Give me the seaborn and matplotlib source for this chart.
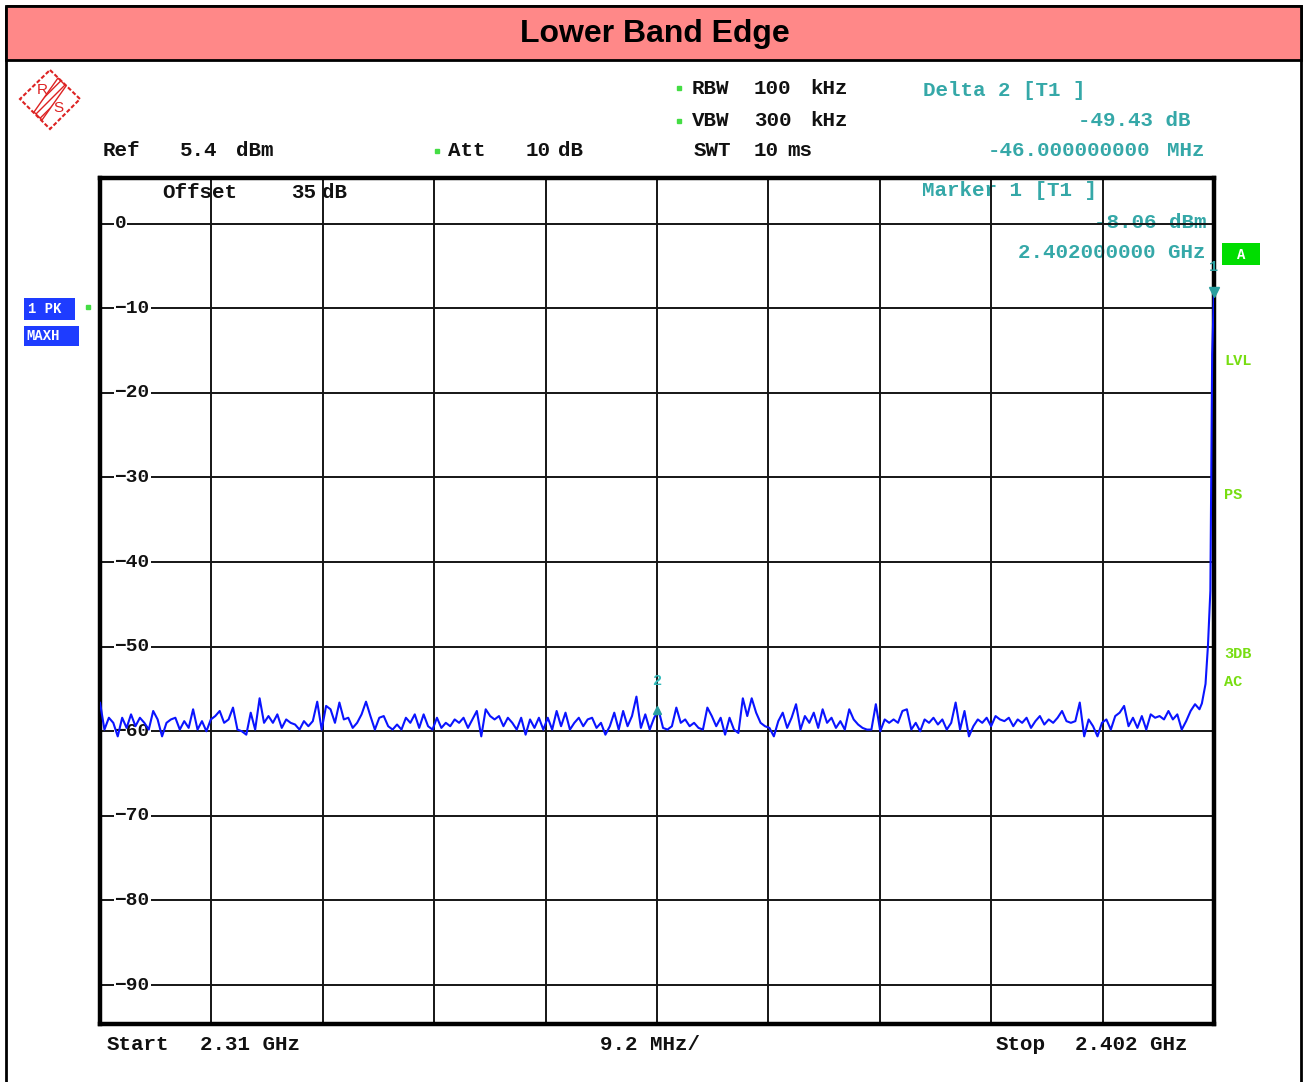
import numpy as np
import pandas as pd
import matplotlib
matplotlib.use('Agg')
import matplotlib.pyplot as plt
from matplotlib.patches import Rectangle, Polygon
import seaborn as sns

# sweep settings (MHz / dBm)
start_mhz = 2310.0
stop_mhz = 2402.0
ref_level = 5.4
grid_levels = [0, -10, -20, -30, -40, -50, -60, -70, -80, -90]

# max-hold noise floor, left to right
noise_a = [-56.6, -59.8, -58.4, -59.0, -60.6, -58.4, -59.6, -58.0, -59.4, -58.4, -59.0, -59.8, -57.6, -58.6, -60.6, -59.0,
           -58.6, -58.4, -59.8, -58.8, -59.6, -57.4, -59.8, -58.8, -60.0, -58.6, -58.2, -57.6, -59.0, -58.6, -57.2, -59.8,
           -60.0, -60.4, -57.8, -59.8, -56.1, -59.0, -58.2, -59.0, -58.0, -59.6, -58.6, -59.0, -59.2, -59.8, -58.8, -59.4,
           -58.8, -56.5, -59.8, -57.0, -57.4, -59.0, -56.6, -58.6, -58.4, -59.6, -59.0, -58.0, -56.5, -58.2, -59.8, -58.4]
noise_b = [-58.2, -59.4, -59.8, -59.2, -59.8, -58.4, -59.0, -58.0, -59.6, -58.0, -59.4, -59.8, -58.4, -59.6, -59.0, -59.4,
           -58.6, -59.0, -58.4, -59.6, -58.6, -57.6, -60.6, -57.4, -58.2, -58.6, -58.2, -59.4, -58.4, -59.0, -59.8, -58.4,
           -60.4, -58.6, -59.6, -58.4, -59.8, -58.4, -59.8, -57.6, -59.4, -57.8, -59.8, -59.0, -58.4, -59.4, -58.6, -58.4,
           -59.6, -59.0, -60.4, -59.4, -57.8, -59.8, -57.6, -59.4, -58.2, -55.9, -59.6, -58.0, -59.8, -58.4, -57.5]
noise_c = [-59.6, -59.8, -59.4, -57.2, -59.0, -58.6, -59.4, -59.0, -59.6, -59.8, -57.2, -58.2, -59.4, -58.4, -60.4, -58.4,
           -59.8, -60.2, -56.1, -58.2, -56.1, -57.8, -59.0, -59.4, -59.6, -60.6, -58.8, -57.8, -59.6, -58.4, -56.8, -59.8,
           -58.2, -59.0, -57.8, -59.6, -57.4, -59.0, -58.4, -59.6, -58.8, -59.8, -57.4, -58.6, -59.2, -59.6, -59.8, -59.8,
           -56.8, -60.0, -58.6, -59.0, -58.6, -59.0, -57.6, -57.4, -59.8, -59.0, -60.0, -58.6, -59.0, -58.4, -59.2]
noise_d = [-58.6, -59.8, -59.0, -56.6, -59.8, -57.6, -60.6, -59.4, -58.6, -59.0, -58.4, -59.4, -58.2, -58.6, -58.8, -58.4,
           -59.4, -58.6, -59.0, -58.4, -59.6, -58.8, -58.2, -59.2, -58.6, -59.0, -58.4, -57.6, -58.8, -59.0, -58.8, -56.6,
           -60.6, -58.6, -59.4, -60.6, -59.0, -58.6, -59.8, -58.2, -57.8, -57.0, -59.4, -58.4, -59.6, -58.2, -59.8, -58.0,
           -58.4, -58.2, -58.6, -57.6, -58.6, -58.0, -59.8, -58.8, -57.6, -56.8, -57.4]

# band edge skirt at the right of the screen
edge_mhz = [2401.0, 2401.3, 2401.5, 2401.7, 2401.85, 2402.0]
edge_level = [-56.7, -54.4, -49.9, -43.4, -15.4, -8.06]

# markers
marker1 = (2402.0, -8.06)
marker2 = (2356.0, -57.49)

noise = noise_a + noise_b + noise_c + noise_d
noise_mhz = np.linspace(start_mhz, 2400.8, len(noise))
df = pd.DataFrame({'freq': np.concatenate([noise_mhz, edge_mhz]),
                   'level': np.concatenate([noise, edge_level])})

sns.set_style('white')
plt.rcParams['font.family'] = ['Liberation Mono', 'DejaVu Sans Mono']

W, H = 1303, 1082
fig = plt.figure(figsize=(W / 100, H / 100), dpi=100)

# background layer in pixel coords for the screen decorations
bg = fig.add_axes([0, 0, 1, 1], zorder=0)
bg.set_xlim(0, W)
bg.set_ylim(H, 0)
bg.axis('off')

bg.add_patch(Rectangle((6, 6), W - 8, H - 4, fill=False, ec='black', lw=2))
bg.add_patch(Rectangle((6, 6), W - 8, 54, fc='#ff8888', ec='black', lw=2))
bg.text(W / 2 + 3, 34, 'Lower Band Edge', ha='center', va='center', fontsize=23,
        fontweight='bold', family='Liberation Sans', color='black')

# R&S logo
bg.add_patch(Polygon([(50, 70), (80, 99), (50, 129), (20, 99)], closed=True, fill=False,
                     ec='#dd2222', lw=1.5, ls=(0, (2, 1))))
bg.add_patch(Polygon([(58, 78), (66, 86), (42, 120), (34, 112)], closed=True, fill=False,
                     ec='#dd2222', lw=1, hatch='////'))
bg.text(42, 90, 'R', color='#dd2222', fontsize=11, ha='center', va='center', family='Liberation Sans')
bg.text(58, 108, 'S', color='#dd2222', fontsize=11, ha='center', va='center', family='Liberation Sans')

black_font = dict(fontsize=15, fontweight='bold', va='center', color='#111111')
teal_font = dict(fontsize=15, fontweight='bold', va='center', color='#35a8a8')
green_font = dict(fontsize=11, fontweight='bold', va='center', color='#77dd11')

for x, y, s in [(103, 151, 'Ref'), (180, 151, '5.4'), (236, 151, 'dBm'),
                (448, 151, 'Att'), (526, 151, '10'), (558, 151, 'dB'),
                (692, 88, 'RBW'), (754, 88, '100'), (810, 88, 'kHz'),
                (692, 121, 'VBW'), (754, 121, '300'), (810, 121, 'kHz'),
                (694, 151, 'SWT'), (754, 151, '10'), (787, 151, 'ms'),
                (162, 193, 'Offset'), (291, 193, '35'), (322, 193, 'dB'),
                (107, 1045, 'Start'), (200, 1045, '2.31 GHz'), (600, 1045, '9.2 MHz/'),
                (996, 1045, 'Stop'), (1075, 1045, '2.402 GHz')]:
    bg.text(x, y, s, **black_font)

for x, y in [(679, 88), (679, 121), (437, 151), (88, 307)]:
    bg.plot(x, y, 's', ms=2.5, color='#44dd44')

bg.text(923, 91, 'Delta 2 [T1 ]', **teal_font)
bg.text(1190, 121, '-49.43 dB', ha='right', **teal_font)
bg.text(1150, 151, '-46.000000000', ha='right', **teal_font)
bg.text(1204, 151, 'MHz', ha='right', **teal_font)
bg.text(922, 191, 'Marker 1 [T1 ]', **teal_font)
bg.text(1206, 222, '-8.06 dBm', ha='right', **teal_font)
bg.text(1205, 252, '2.402000000 GHz', ha='right', **teal_font)

bg.add_patch(Rectangle((1222, 243), 38, 22, fc='#00dd00', ec='none'))
bg.text(1241, 255, 'A', ha='center', va='center', color='white', fontsize=10, fontweight='bold')
for y, s in [(361, 'LVL'), (495, 'PS'), (654, '3DB'), (682, 'AC')]:
    bg.text(1224, y, s, **green_font)

bg.add_patch(Rectangle((24, 298), 51, 22, fc='#1e3cff', ec='none'))
bg.text(28, 309, '1 PK', color='white', fontsize=10, fontweight='bold', va='center')
bg.add_patch(Rectangle((24, 326), 55, 20, fc='#1e3cff', ec='none'))
bg.text(26, 336, 'MAXH', color='white', fontsize=10, fontweight='bold', va='center')

# measurement screen
ax = fig.add_axes([100 / W, 1 - 1024 / H, 1114 / W, 846 / H], zorder=1)
ax.patch.set_alpha(0)

sns.lineplot(data=df, x='freq', y='level', ax=ax, color='#0a14ff', lw=1.5,
             estimator=None, sort=False, zorder=5)

ax.set_xlim(start_mhz, stop_mhz)
ax.set_ylim(ref_level - 100, ref_level)
ax.set_xticks(np.linspace(start_mhz, stop_mhz, 11))
ax.set_yticks(grid_levels)
ax.grid(True, color='#151515', lw=1.4)
ax.tick_params(left=False, bottom=False, labelleft=False, labelbottom=False)
ax.set_xlabel('')
ax.set_ylabel('')
for sp in ax.spines.values():
    sp.set_visible(True)
    sp.set_linewidth(3.2)
    sp.set_color('black')

for lvl in grid_levels:
    ax.text(0.013, lvl, str(lvl).replace('-', '\u2212'), transform=ax.get_yaxis_transform(),
            ha='left', va='center', fontsize=14, fontweight='bold', color='#111111', zorder=3,
            bbox=dict(fc='white', ec='none', pad=0.5))

teal = '#2a9f9f'
ax.plot(*marker1, 'v', color=teal, ms=7, zorder=6, clip_on=False)
ax.annotate('1', xy=marker1, xytext=(0, 18), textcoords='offset points', ha='center',
            va='center', color=teal, fontsize=11, fontweight='bold', annotation_clip=False)
ax.plot(*marker2, '^', color=teal, ms=6, zorder=6)
ax.annotate('2', xy=marker2, xytext=(0, 21), textcoords='offset points', ha='center',
            va='center', color='#33bbbb', fontsize=11, fontweight='bold')

fig.savefig('out.png', dpi=100)
